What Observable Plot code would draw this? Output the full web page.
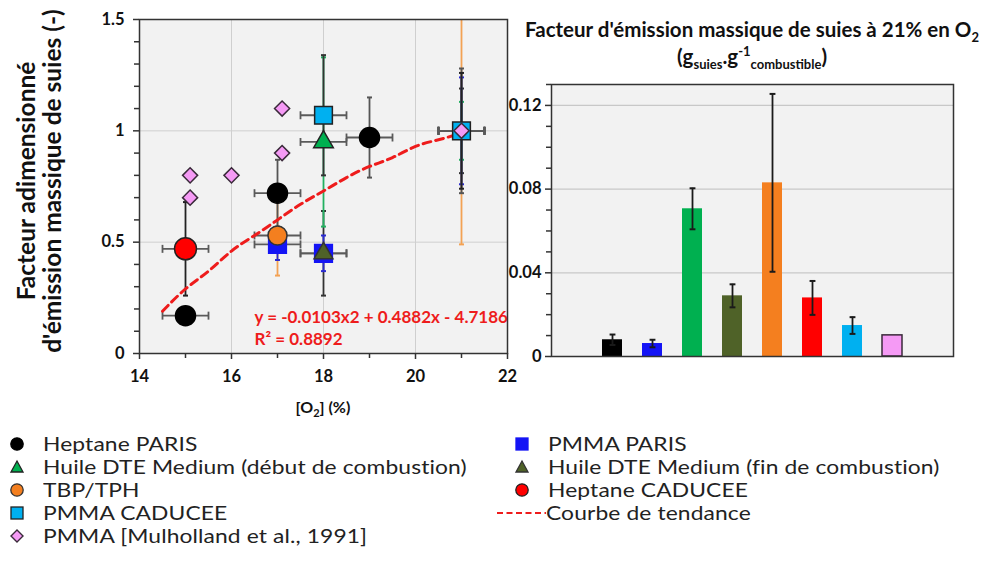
<!DOCTYPE html>
<html><head><meta charset="utf-8">
<script src="https://cdn.jsdelivr.net/npm/d3@7"></script>
<script src="https://cdn.jsdelivr.net/npm/@observablehq/plot@0.6"></script>
<style>
body{margin:0;background:#fff;}
#root{position:relative;width:982px;height:566px;font-family:Lato,"Open Sans",sans-serif;color:#111;overflow:hidden;background:#fff}
.abs{position:absolute}
#root svg text{font-weight:700}
sub,sup{line-height:0}
#ylab{position:absolute;left:39px;top:181px;width:400px;transform:translate(-50%,-50%) rotate(-90deg);text-align:center;font-weight:700;font-size:24.5px;line-height:26px;white-space:nowrap}
#xlab{position:absolute;left:323px;top:397px;transform:translateX(-50%);font-weight:700;font-size:16px;white-space:nowrap}
#title{position:absolute;left:522px;width:460px;top:16px;text-align:center;font-weight:700;font-size:20.5px;line-height:27px;white-space:nowrap}
#title sub,#title sup{font-size:13px}
.leg{position:absolute;display:flex;align-items:center;height:22px;white-space:nowrap;color:#222}
.leg span{display:inline-block;font-size:19px;line-height:20px;transform:scaleX(1.2);transform-origin:0 50%;letter-spacing:0.1px}
.leg svg{flex:none}
</style></head><body><div id="root">
<div id="leftplot" class="abs" style="left:0;top:0"></div>
<div id="rightplot" class="abs" style="left:500px;top:0"></div>
<div id="ylab">Facteur adimensionné<br>d'émission massique de suies (-)</div>
<div id="xlab">[O<sub style="font-size:11px">2</sub>] (%)</div>
<div id="title">Facteur d'émission massique de suies à 21% en O<sub>2</sub><br>(g<sub>suies</sub>.g<sup>-1</sup><sub>combustible</sub>)</div>
<div id="legend"></div>
</div>
<script>
// ---------- Data (left chart: normalised soot emission factor vs [O2]) ----------
const heptaneParisO2 = [15, 17, 19, 21];
const heptaneParisVal = [0.17, 0.72, 0.97, 1.0];
const heptaneParisErr = [0, 0.15, 0.18, 0.28];

const pmmaParisO2 = [17, 18, 21];
const pmmaParisVal = [0.49, 0.45, 1.0];
const pmmaParisErr = [0.07, 0.08, 0.24];

const huileDebutO2 = [18, 21];
const huileDebutVal = [0.95, 1.0];
const huileDebutErr = [0.38, 0.13];

const huileFinO2 = [18, 21];
const huileFinVal = [0.45, 1.0];
const huileFinErr = [0.19, 0.19];

const tbpO2 = [17, 21];
const tbpVal = [0.53, 1.0];
const tbpErr = [0.18, 0.51];

const heptaneCaduceeO2 = [15, 21];
const heptaneCaduceeVal = [0.47, 1.0];
const heptaneCaduceeErr = [0.21, 0.26];

const pmmaCaduceeO2 = [18, 21];
const pmmaCaduceeVal = [1.07, 1.0];
const pmmaCaduceeErr = [0.27, 0];

const mulhollandO2 = [15.1, 15.1, 16, 17.1, 17.1, 21];
const mulhollandVal = [0.8, 0.7, 0.8, 0.9, 1.1, 1.0];

const o2Err = 0.5;
const referenceO2 = 21; // normalisation point (all series = 1 there)

// trend curve
const trendO2 = [14.5, 15, 15.5, 16, 16.5, 17, 17.5, 18, 18.5, 19, 19.5, 20, 20.5, 21];
const trendVal = [0.19, 0.29, 0.37, 0.46, 0.53, 0.60, 0.67, 0.73, 0.79, 0.84, 0.88, 0.93, 0.96, 0.99];
const trendEquation = "y = -0.0103x2 + 0.4882x - 4.7186";
const trendR2 = "R² = 0.8892";

const o2Ticks = [14, 16, 18, 20, 22];
const o2MinorTicks = [15, 17, 19, 21];
const yTicksLeft = [0, 0.5, 1, 1.5];
const yMinorLeft = [0.1, 0.2, 0.3, 0.4, 0.6, 0.7, 0.8, 0.9, 1.1, 1.2, 1.3, 1.4];

// ---------- Data (right chart: soot emission factor at 21% O2) ----------
const barCats = ["Heptane PARIS", "PMMA PARIS", "Huile DTE Medium (début de combustion)", "Huile DTE Medium (fin de combustion)", "TBP/TPH", "Heptane CADUCEE", "PMMA CADUCEE", "PMMA [Mulholland et al., 1991]"];
const barVals = [0.008, 0.0062, 0.0706, 0.029, 0.083, 0.028, 0.0148, 0.0101];
const barErrs = [0.0025, 0.0018, 0.0098, 0.0055, 0.0425, 0.0081, 0.004, 0];
const yTicksRight = [0, 0.04, 0.08, 0.12];
const yMinorRight = [0.01, 0.02, 0.03, 0.05, 0.06, 0.07, 0.09, 0.10, 0.11, 0.13];

// ---------- Styles ----------
const C = {
  black: "#000000", blue: "#1414f5", green: "#00b050", olive: "#4f6228",
  orange: "#f47f1f", red: "#ff0000", lblue: "#00b0f0", violet: "#f59af5"
};
const series = [
  {name: "PMMA PARIS", o2: pmmaParisO2, val: pmmaParisVal, err: pmmaParisErr, symbol: "square", r: 10, fill: C.blue, stroke: "#1414f5", errColor: "#2a2ad0"},
  {name: "Huile DTE Medium (fin de combustion)", o2: huileFinO2, val: huileFinVal, err: huileFinErr, symbol: "triangle", r: 7, fill: C.olive, stroke: "#333", errColor: "#333"},
  {name: "Huile DTE Medium (début de combustion)", o2: huileDebutO2, val: huileDebutVal, err: huileDebutErr, symbol: "triangle", r: 7.3, fill: C.green, stroke: "#222", errColor: "#22b060"},
  {name: "TBP/TPH", o2: tbpO2, val: tbpVal, err: tbpErr, symbol: "circle", r: 9.5, fill: C.orange, stroke: "#333", errColor: "#f3a254"},
  {name: "Heptane PARIS", o2: heptaneParisO2, val: heptaneParisVal, err: heptaneParisErr, symbol: "circle", r: 10, fill: C.black, stroke: "#000", errColor: "#555"},
  {name: "Heptane CADUCEE", o2: heptaneCaduceeO2, val: heptaneCaduceeVal, err: heptaneCaduceeErr, symbol: "circle", r: 11, fill: C.red, stroke: "#222", errColor: "#222"},
  {name: "PMMA CADUCEE", o2: pmmaCaduceeO2, val: pmmaCaduceeVal, err: pmmaCaduceeErr, symbol: "square", r: 10, fill: C.lblue, stroke: "#222", errColor: "#333", showRef: true},
];
const capH = {draw(ctx, size) { const w = Math.sqrt(size) / 2; ctx.moveTo(-w, 0); ctx.lineTo(w, 0); }};
const capV = {draw(ctx, size) { const w = Math.sqrt(size) / 2; ctx.moveTo(0, -w); ctx.lineTo(0, w); }};

const rowsOf = s => s.o2.map((x, i) => ({x, y: s.val[i], e: s.err[i]}));
const mulRows = mulhollandO2.map((x, i) => ({x, y: mulhollandVal[i]}));

const errMarks = [];
// horizontal error bars (grey)
for (const s of series) {
  const rows = rowsOf(s);
  errMarks.push(Plot.link(rows, {x1: d => d.x - o2Err, x2: d => d.x + o2Err, y1: "y", y2: "y", stroke: "#5a5a5a", strokeWidth: 1.8}));
  errMarks.push(Plot.dot(rows, {x: d => d.x - o2Err, y: "y", symbol: capV, r: 4.5, stroke: "#5a5a5a", strokeWidth: 1.8, fill: "none"}));
  errMarks.push(Plot.dot(rows, {x: d => d.x + o2Err, y: "y", symbol: capV, r: 4.5, stroke: "#5a5a5a", strokeWidth: 1.8, fill: "none"}));
}
// vertical error bars
for (const s of [series[3], series[1], series[2], series[0], series[4], series[5], series[6]]) {
  const rows = rowsOf(s).filter(d => d.e > 0);
  errMarks.push(Plot.link(rows, {x1: "x", x2: "x", y1: d => d.y - d.e, y2: d => d.y + d.e, stroke: s.errColor, strokeWidth: 1.8, clip: true}));
  errMarks.push(Plot.dot(rows, {x: "x", y: d => d.y - d.e, symbol: capH, r: 2.8, stroke: s.errColor, strokeWidth: 2, fill: "none", clip: true}));
  errMarks.push(Plot.dot(rows, {x: "x", y: d => d.y + d.e, symbol: capH, r: 2.8, stroke: s.errColor, strokeWidth: 2, fill: "none", clip: true}));
}

// markers (at the 21 % normalisation point only the PMMA CADUCEE square and Mulholland diamond are visible)
const markerMarks = series.map(s => Plot.dot(rowsOf(s).filter(d => s.showRef || d.x !== referenceO2), {x: "x", y: "y", symbol: s.symbol, r: s.r, fill: s.fill, stroke: s.stroke, strokeWidth: 1.5}));
markerMarks.push(Plot.dot(mulRows, {x: "x", y: "y", symbol: "diamond2", r: 6.8, fill: C.violet, stroke: "#3a2a3a", strokeWidth: 1.5}));

const left = Plot.plot({
  width: 520, height: 420,
  marginLeft: 139, marginRight: 13, marginTop: 19, marginBottom: 67,
  x: {domain: [14, 22], label: null},
  y: {domain: [0, 1.5], label: null},
  style: {fontFamily: "Lato, sans-serif", fontSize: "16.5px", color: "#111", background: "transparent", overflow: "visible"},
  marks: [
    Plot.frame({fill: "#f2f2f2", stroke: null}),
    Plot.gridX([16, 18, 20], {stroke: "#cfcfcf", strokeOpacity: 1, strokeWidth: 1}),
    Plot.gridY([0.5, 1], {stroke: "#cfcfcf", strokeOpacity: 1, strokeWidth: 1}),
    Plot.axisX(o2Ticks, {tickSize: 6, tickPadding: 11, stroke: "#333", strokeWidth: 1.5, tickFormat: d => String(d)}),
    Plot.axisX(o2MinorTicks, {tickSize: 5, stroke: "#333", strokeWidth: 1.5, tickFormat: () => ""}),
    Plot.axisY(yTicksLeft, {tickSize: 6, tickPadding: 9, stroke: "#333", strokeWidth: 1.5, tickFormat: d => String(d)}),
    Plot.axisY(yMinorLeft, {tickSize: 5, stroke: "#333", strokeWidth: 1.5, tickFormat: () => ""}),
    ...errMarks,
    Plot.line(trendO2.map((x, i) => ({x, y: trendVal[i]})), {x: "x", y: "y", curve: "natural", stroke: "#ee1c1c", strokeWidth: 3, strokeDasharray: "8,5"}),
    ...markerMarks,
    Plot.text([trendEquation], {x: 16.5, y: 0.16, text: d => d, textAnchor: "start", fill: "#ee1c1c", fontSize: 17}),
    Plot.text([trendR2], {x: 16.5, y: 0.062, text: d => d, textAnchor: "start", fill: "#ee1c1c", fontSize: 17}),
    Plot.frame({stroke: "#333", strokeWidth: 1.5})
  ]
});
document.getElementById("leftplot").append(left);

// ---------- Right chart ----------
const barRows = barCats.map((c, i) => ({c, v: barVals[i], e: barErrs[i]}));
const barFill = [C.black, C.blue, C.green, C.olive, C.orange, C.red, C.lblue, C.violet];
const barErrRows = barRows.filter(d => d.e > 0);
const right = Plot.plot({
  width: 482, height: 420,
  marginLeft: 51, marginRight: 29, marginTop: 84, marginBottom: 64,
  x: {type: "band", domain: barCats, paddingInner: 0.5, paddingOuter: 1.25, axis: null},
  y: {domain: [0, 0.13], label: null},
  color: {type: "identity"},
  style: {fontFamily: "Lato, sans-serif", fontSize: "16.5px", color: "#111", background: "transparent", overflow: "visible"},
  marks: [
    Plot.frame({fill: "#f2f2f2", stroke: null}),
    Plot.gridY([0.04, 0.08, 0.12], {stroke: "#c8c8c8", strokeOpacity: 1, strokeWidth: 1.2}),
    Plot.axisY(yTicksRight, {tickSize: 6, tickPadding: 4, stroke: "#333", strokeWidth: 1.5, tickFormat: d => d === 0 ? "0" : d.toFixed(2)}),
    Plot.axisY(yMinorRight, {tickSize: 5, stroke: "#333", strokeWidth: 1.5, tickFormat: () => ""}),
    Plot.barY(barRows, {x: "c", y: "v", fill: (d, i) => barFill[i], stroke: (d, i) => i === 7 ? "#3a2a3a" : "none", strokeWidth: 1.5}),
    Plot.ruleX(barErrRows, {x: "c", y1: d => d.v - d.e, y2: d => d.v + d.e, stroke: "#1a1a1a", strokeWidth: 1.8}),
    Plot.dot(barErrRows, {x: "c", y: d => d.v - d.e, symbol: capH, r: 3.3, stroke: "#1a1a1a", strokeWidth: 2, fill: "none"}),
    Plot.dot(barErrRows, {x: "c", y: d => d.v + d.e, symbol: capH, r: 3.3, stroke: "#1a1a1a", strokeWidth: 2, fill: "none"}),
    Plot.frame({stroke: "#333", strokeWidth: 1.5})
  ]
});
document.getElementById("rightplot").append(right);

// ---------- Legend ----------
const legendItems = [
  {label: "Heptane PARIS", col: 0, row: 0, kind: "circle", fill: C.black, stroke: "#000"},
  {label: "Huile DTE Medium (début de combustion)", col: 0, row: 1, kind: "triangle", fill: C.green, stroke: "#222"},
  {label: "TBP/TPH", col: 0, row: 2, kind: "circle", fill: C.orange, stroke: "#333"},
  {label: "PMMA CADUCEE", col: 0, row: 3, kind: "square", fill: C.lblue, stroke: "#222"},
  {label: "PMMA [Mulholland et al., 1991]", col: 0, row: 4, kind: "diamond", fill: C.violet, stroke: "#3a2a3a"},
  {label: "PMMA PARIS", col: 1, row: 0, kind: "square", fill: C.blue, stroke: C.blue},
  {label: "Huile DTE Medium (fin de combustion)", col: 1, row: 1, kind: "triangle", fill: C.olive, stroke: "#333"},
  {label: "Heptane CADUCEE", col: 1, row: 2, kind: "circle", fill: C.red, stroke: "#222"},
  {label: "Courbe de tendance", col: 1, row: 3, kind: "dash"}
];
const legend = document.getElementById("legend");
const rowY = [444, 467, 490, 513, 536];
for (const it of legendItems) {
  const div = document.createElement("div");
  div.className = "leg";
  const sw = it.kind === "dash" ? 50 : 24;
  const sx = it.col === 0 ? 5 : 510;
  div.style.left = (it.kind === "dash" ? 496 : sx) + "px";
  div.style.top = (rowY[it.row] - 11) + "px";
  let shape = "";
  const cx = 12, cy = 11;
  if (it.kind === "circle") shape = `<circle cx="${cx}" cy="${cy}" r="6.2" fill="${it.fill}" stroke="${it.stroke}" stroke-width="1.3"/>`;
  if (it.kind === "square") shape = `<rect x="${cx-6}" y="${cy-6}" width="12" height="12" fill="${it.fill}" stroke="${it.stroke}" stroke-width="1.3"/>`;
  if (it.kind === "triangle") shape = `<path d="M${cx},${cy-6}L${cx+6},${cy+5}L${cx-6},${cy+5}Z" fill="${it.fill}" stroke="${it.stroke}" stroke-width="1.3"/>`;
  if (it.kind === "diamond") shape = `<path d="M${cx},${cy-6}L${cx+6},${cy}L${cx},${cy+6}L${cx-6},${cy}Z" fill="${it.fill}" stroke="${it.stroke}" stroke-width="1.4"/>`;
  if (it.kind === "dash") shape = `<line x1="1" y1="${cy}" x2="${sw}" y2="${cy}" stroke="#ee1c1c" stroke-width="2.2" stroke-dasharray="6,3.5"/>`;
  const svgW = it.kind === "dash" ? sw : 38;
  div.innerHTML = `<svg width="${svgW}" height="22">${shape}</svg><span>${it.label}</span>`;
  legend.append(div);
}
</script>
</body></html>
